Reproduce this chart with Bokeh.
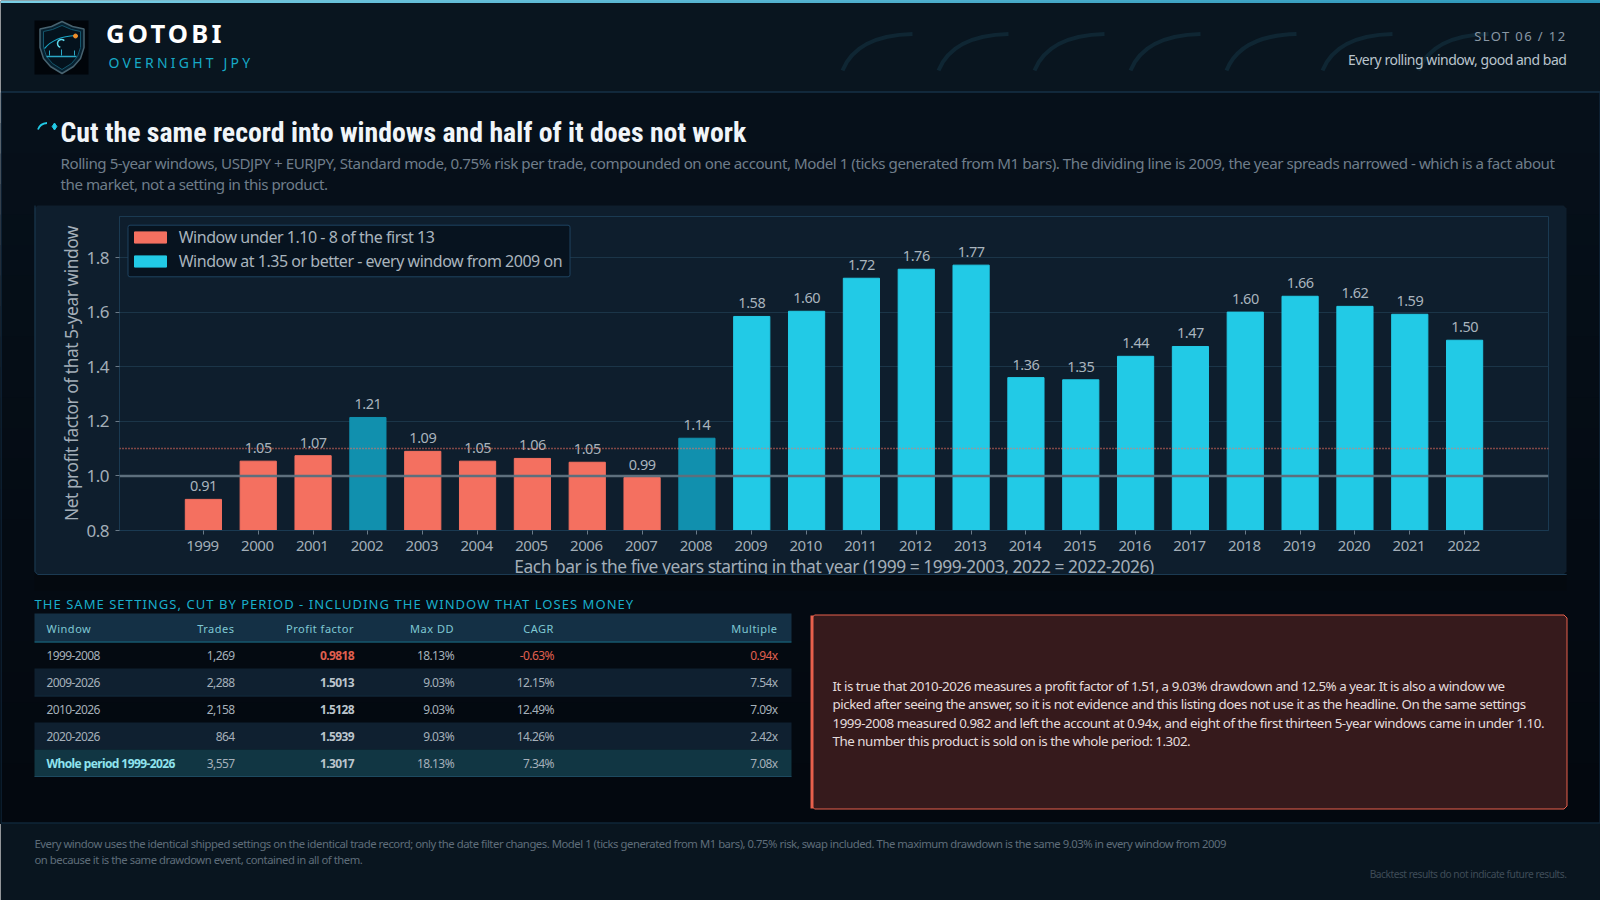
import math
from bokeh.plotting import figure
from bokeh.embed import file_html
from bokeh.resources import INLINE
from bokeh.layouts import column
from bokeh.core.properties import value
from bokeh.models import (ColumnDataSource, FactorRange, Range1d, Span, Legend, LegendItem,
                          FixedTicker, NumeralTickFormatter, BoxAnnotation)

# ---------------- data ----------------
years = [str(y) for y in range(1999, 2023)]
pf = [0.914, 1.054, 1.074, 1.214, 1.090, 1.054, 1.064, 1.050, 0.994, 1.138, 1.584, 1.603,
      1.724, 1.757, 1.772, 1.360, 1.352, 1.438, 1.474, 1.600, 1.658, 1.621, 1.592, 1.497]
legend_low = "Window under 1.10 - 8 of the first 13"
legend_high = "Window at 1.35 or better - every window from 2009 on"
y_ticks = [0.8, 1.0, 1.2, 1.4, 1.6, 1.8]
y_title = "Net profit factor of that 5-year window"
x_title = "Each bar is the five years starting in that year (1999 = 1999-2003, 2022 = 2022-2026)"

tbl_head = ["Window", "Trades", "Profit factor", "Max DD", "CAGR", "Multiple"]
tbl_window = ["1999-2008", "2009-2026", "2010-2026", "2020-2026", "Whole period 1999-2026"]
tbl_trades = ["1,269", "2,288", "2,158", "864", "3,557"]
tbl_pf = ["0.9818", "1.5013", "1.5128", "1.5939", "1.3017"]
tbl_dd = ["18.13%", "9.03%", "9.03%", "9.03%", "18.13%"]
tbl_cagr = ["-0.63%", "12.15%", "12.49%", "14.26%", "7.34%"]
tbl_mult = ["0.94x", "7.54x", "7.09x", "2.42x", "7.08x"]

title = "Cut the same record into windows and half of it does not work"
subtitle = ["Rolling 5-year windows, USDJPY + EURJPY, Standard mode, 0.75% risk per trade, compounded on one account, Model 1 (ticks generated from M1 bars). The dividing line is 2009, the year spreads narrowed - which is a fact about",
            "the market, not a setting in this product."]
callout = ["It is true that 2010-2026 measures a profit factor of 1.51, a 9.03% drawdown and 12.5% a year. It is also a window we",
           "picked after seeing the answer, so it is not evidence and this listing does not use it as the headline. On the same settings",
           "1999-2008 measured 0.982 and left the account at 0.94x, and eight of the first thirteen 5-year windows came in under 1.10.",
           "The number this product is sold on is the whole period: 1.302."]
footer = ["Every window uses the identical shipped settings on the identical trade record; only the date filter changes. Model 1 (ticks generated from M1 bars), 0.75% risk, swap included. The maximum drawdown is the same 9.03% in every window from 2009",
          "on because it is the same drawdown event, contained in all of them."]
section = "THE SAME SETTINGS, CUT BY PERIOD - INCLUDING THE WINDOW THAT LOSES MONEY"

FONT = "Noto Sans"
CORAL, CYAN, TEAL = "#f47060", "#22cae6", "#1190ae"
BODY_SP = -0.47
SPACING = {}


def layer(spacing=0.0, stretch="normal"):
    f = figure(width=1600, height=900, x_range=Range1d(0, 1600), y_range=Range1d(900, 0),
               output_backend="svg", toolbar_location=None, min_border=0,
               background_fill_alpha=0, border_fill_alpha=0, outline_line_color=None,
               margin=(-900, 0, 0, 0), frame_align=False)
    f.axis.visible = False
    f.grid.visible = False
    f.styles = {"font-stretch": stretch, "letter-spacing": f"{spacing}px"}
    SPACING[f.id] = spacing
    return f


def T(f, x, y, s, size, color, font=FONT, weight="normal", align="left", drop=0.4):
    if align == "right":
        x = x - len(s) * SPACING[f.id]
    elif align == "center":
        x = x - len(s) * SPACING[f.id] / 2
    f.text(x=[x], y=[y - drop * size], text=[s], text_font=value(font), text_font_size=f"{size}px",
           text_color=color, text_font_style=weight, text_align=align, text_baseline="alphabetic")


def R(f, x0, y0, x1, y1, color):
    f.quad(left=[x0], right=[x1], top=[y0], bottom=[y1], fill_color=color, line_color=None)


def chamfer(f, x0, y0, x1, y1, c, fill, line=None, lw=1):
    xs = [x0 + c, x1 - c, x1, x1, x1 - c, x0 + c, x0, x0]
    ys = [y0, y0, y0 + c, y1 - c, y1, y1, y1 - c, y0 + c]
    f.patch(xs, ys, fill_color=fill, line_color=line, line_width=lw)


# ---------------- background layer ----------------
bg = layer()
bg.margin = 0
R(bg, 0, 0, 1600, 900, "#040b13")
top_c = (6, 16, 26)
bot_c = (3, 8, 15)
for i in range(24):
    k = i / 23
    col = "#%02x%02x%02x" % tuple(int(round(a + (b - a) * k)) for a, b in zip(top_c, bot_c))
    R(bg, 0, 92 + i * 30.5, 1600, 823, col)
R(bg, 0, 0, 1600, 91, "#09151f")
R(bg, 0, 823, 1600, 900, "#09151f")
l_c = (120, 205, 228)
r_c = (44, 150, 185)
for i in range(40):
    k = i / 39
    col = "#%02x%02x%02x" % tuple(int(round(a + (b - a) * k)) for a, b in zip(l_c, r_c))
    R(bg, i * 40, 0, 1600, 2.4, col)
bg.line([0, 1600], [91.5, 91.5], line_color="#1f4460", line_width=1)
bg.line([0, 1600], [822.5, 822.5], line_color="#16344c", line_width=1)
bg.line([0.5, 0.5], [92, 822], line_color="#14304a", line_width=1)
bg.line([1599.5, 1599.5], [92, 822], line_color="#14304a", line_width=1)
for i in range(7):
    x0 = 842 + i * 96
    bg.quadratic(x0=[x0], y0=[70], x1=[x0 + 70], y1=[33.5], cx=[x0 + 14], cy=[35],
                 line_color="#0f2633", line_width=4)
R(bg, 34, 20, 88, 74, "#01050a")
shield_x = [61.5, 72, 83.5, 83.5, 80, 73, 61.5, 50, 43, 39.5, 39.5, 51]
shield_y = [21, 26, 28.5, 47, 58, 66, 73, 66, 58, 47, 28.5, 26]
bg.patch(shield_x, shield_y, fill_color="#06202f", line_color="#47626f", line_width=1.5)
inner_x = [61.5, 71, 80, 80, 77, 71, 61.5, 52, 46, 43, 43, 52]
inner_y = [25, 29, 31, 47, 56, 63, 69, 63, 56, 47, 31, 29]
bg.patch(inner_x, inner_y, fill_color="#04121d", line_color="#14566c", line_width=1)
bg.quadratic(x0=[44], y0=[48], x1=[75], y1=[35], cx=[54], cy=[36], line_color="#1aa4c4", line_width=1.2)
bg.line([46, 76], [56, 56], line_color="#2aa7c6", line_width=1.4)
bg.segment(x0=[49, 61, 74], y0=[55, 55, 55], x1=[49, 61, 74], y1=[50, 49, 50], line_color="#2aa7c6", line_width=1)
bg.arc(x=[61], y=[43], radius=4, start_angle=0.8, end_angle=4.4, line_color="#5fdcf0", line_width=1.5)
bg.scatter([75], [35.5], size=4, color="#f0902c")
bg.quadratic(x0=[37.5], y0=[129], x1=[46.5], y1=[122.5], cx=[39.5], cy=[123], line_color="#22cae6", line_width=1.8)
bg.scatter([54], [126], size=7, marker="diamond", color="#22cae6")
chamfer(bg, 34, 205, 1566, 574, 3, "#0e1e2d")
bg.line([34.5, 34.5, 37, 1566], [205, 571, 574, 574], line_color="#1b3a52", line_width=1)
R(bg, 34, 613, 791, 641, "#143045")
R(bg, 34, 668, 791, 695, "#0f2030")
R(bg, 34, 722, 791, 749, "#0f2030")
R(bg, 34, 749, 791, 776, "#113643")
bg.line([34, 791], [641.5, 641.5], line_color="#1f7f9c", line_width=1.2)
bg.line([34, 791], [695.5, 695.5], line_color="#17354b", line_width=1)
bg.line([34, 791], [776, 776], line_color="#1d4a60", line_width=1.2)
chamfer(bg, 811, 614.5, 1566.5, 808.5, 3, "#361a1c", "#e8604c", 1)
R(bg, 810, 615, 813, 808, "#e8604c")

# ---------------- chart ----------------
FL, FR, FT, FB = 119, 1548, 216, 530
ch = figure(width=1600, height=900,
            x_range=FactorRange(factors=years, range_padding=1.03, range_padding_units="absolute"),
            y_range=Range1d(0.8, 0.8 + (FB - FT) / 273),
            output_backend="svg", toolbar_location=None,
            min_border_left=FL, min_border_right=1600 - FR, min_border_top=FT, min_border_bottom=900 - FB,
            background_fill_alpha=0, border_fill_alpha=0, outline_line_color="#1a3a52",
            margin=(-900, 0, 0, 0), frame_align=False, styles={"letter-spacing": f"{BODY_SP}px"})
ch.xgrid.visible = False
ch.ygrid.grid_line_color = "#1b3548"
ch.ygrid.ticker = FixedTicker(ticks=y_ticks)
ch.yaxis.ticker = FixedTicker(ticks=y_ticks)
ch.yaxis.formatter = NumeralTickFormatter(format="0.0")
for ax in (ch.xaxis[0], ch.yaxis[0]):
    ax.axis_line_color = "#1a3a52"
    ax.major_tick_line_color = "#6a7a88"
    ax.major_tick_out = 4
    ax.major_tick_in = 0
    ax.minor_tick_line_color = None
    ax.major_label_text_font = FONT
    ax.major_label_text_color = "#a3aeb8"
ch.yaxis.major_label_text_font_size = "17px"
ch.xaxis.major_label_text_font_size = "15px"
ch.xaxis.major_label_standoff = 6
ch.yaxis.major_label_standoff = 5


def pick(cond):
    return ColumnDataSource(dict(x=[y for y, v in zip(years, pf) if cond(v)],
                                 top=[v for v in pf if cond(v)]))


low = ch.vbar(x="x", top="top", bottom=0.8, width=0.66, color=CORAL, source=pick(lambda v: v < 1.10))
mid = ch.vbar(x="x", top="top", bottom=0.8, width=0.66, color=TEAL, source=pick(lambda v: 1.10 <= v < 1.35))
high = ch.vbar(x="x", top="top", bottom=0.8, width=0.66, color=CYAN, source=pick(lambda v: v >= 1.35))
ch.add_layout(Span(location=1.10, dimension="width", line_color="#f47060", line_width=1.5, line_dash="1 2"))
ch.add_layout(Span(location=1.0, dimension="width", line_color="#5d6f7d", line_width=2.5))
ch.text(x=years, y=pf, text=[f"{v:.2f}" for v in pf], y_offset=-13, x_offset=1, text_align="center",
        text_baseline="alphabetic", text_font=value(FONT), text_font_size="14.5px", text_color="#a9b4bd")
ch.add_layout(BoxAnnotation(left=127.5, right=569.5, top=224.7, bottom=276.3,
                            left_units="canvas", right_units="canvas", top_units="canvas", bottom_units="canvas",
                            fill_color="#07131f", fill_alpha=1, line_color="#1e4360", line_width=1, line_alpha=1,
                            border_radius=2))
lg = Legend(items=[LegendItem(label=legend_low, renderers=[low]), LegendItem(label=legend_high, renderers=[high])],
            location=(10.7, 257.8), orientation="vertical", glyph_width=40, glyph_height=14,
            label_text_font=FONT, label_text_font_size="16px", label_text_color="#a9b4bd",
            background_fill_alpha=0, border_line_color=None, spacing=2, padding=6, margin=0, label_standoff=9)
ch.add_layout(lg)

# ---------------- axis titles (below the cover that clips the x title) ----------------
titles = layer(BODY_SP)
T(titles, 833.5, 572, x_title, 17.4, "#a3aeb8", align="center")
titles.text(x=[70.5], y=[373 + len(y_title) * BODY_SP / -2 * 0], text=[y_title], angle=[math.pi / 2],
            text_font=value(FONT), text_font_size="17.4px", text_color="#a3aeb8",
            text_align="center", text_baseline="alphabetic",
            y_offset=[len(y_title) * BODY_SP / 2])

# ---------------- cover + plain text ----------------
top = layer(BODY_SP)
R(top, 34, 574, 1566, 590, "#04090f")
top.line([37, 1566], [574, 574], line_color="#1b3a52", line_width=1)
T(top, 60, 168.5, subtitle[0], 15.15, "#6f7d8a")
T(top, 60, 189.5, subtitle[1], 15.15, "#6f7d8a")
T(top, 1566, 65, "Every rolling window, good and bad", 14, "#b9c4cd", align="right")
for i, s in enumerate(callout):
    T(top, 832, [691, 709.3, 728, 746][i], s, 13.37, "#e4dcdc")
T(top, 34, 848, footer[0], 11.3, "#5f6d7a")
T(top, 34, 863.7, footer[1], 11.3, "#5f6d7a")
T(top, 1566, 878, "Backtest results do not indicate future results.", 10.2, "#3f4c58", align="right")

tb = layer(-0.6)
rows_y = [660, 686.7, 714, 740.7, 767.7]
cols_r = [234, 353.5, 453.5, 553.3, 777]
for i in range(5):
    strong = i == 4
    T(tb, 46, rows_y[i], tbl_window[i], 12, "#8fe3ee" if strong else "#a5b0ba", weight="bold" if strong else "normal")
    for col, xr, vals in zip(range(5), cols_r, [tbl_trades, tbl_pf, tbl_dd, tbl_cagr, tbl_mult]):
        c = "#a5b0ba"
        w = "normal"
        if col == 1:
            c = "#bcc5cd"
            w = "bold"
        if i == 0 and col in (1, 3, 4):
            c = "#e0604f"
        if i == 0 and col == 3:
            w = "normal"
        T(tb, xr, rows_y[i], vals[i], 12, c, weight=w, align="right")

# ---------------- title layer + letter-spaced layers ----------------
ttl = layer(stretch="condensed")
T(ttl, 60, 141.7, title, 27.8, "#f0f5f9", "Roboto", "bold", drop=0.36)
wide = layer(3.2)
T(wide, 105.5, 43.3, "GOTOBI", 25.6, "#ffffff", weight="bold")
T(wide, 108, 67.3, "OVERNIGHT JPY", 14, "#17a9c6")
mid_sp = layer(1.4)
T(mid_sp, 1566, 40.8, "SLOT 06 / 12", 13, "#8a98a5", align="right")
thin = layer(1.04)
T(thin, 34, 609, section, 13, "#19aecb", drop=0.45)
hdr = layer(0.5)
T(hdr, 46, 632.7, tbl_head[0], 11, "#7fc8d4")
for xr, s in zip(cols_r, tbl_head[1:]):
    T(hdr, xr, 632.7, s, 11, "#7fc8d4", align="right")

page = column(bg, ch, titles, top, tb, ttl, wide, mid_sp, thin, hdr, spacing=0, margin=0)
open("out.html", "w").write(file_html(page, INLINE))
